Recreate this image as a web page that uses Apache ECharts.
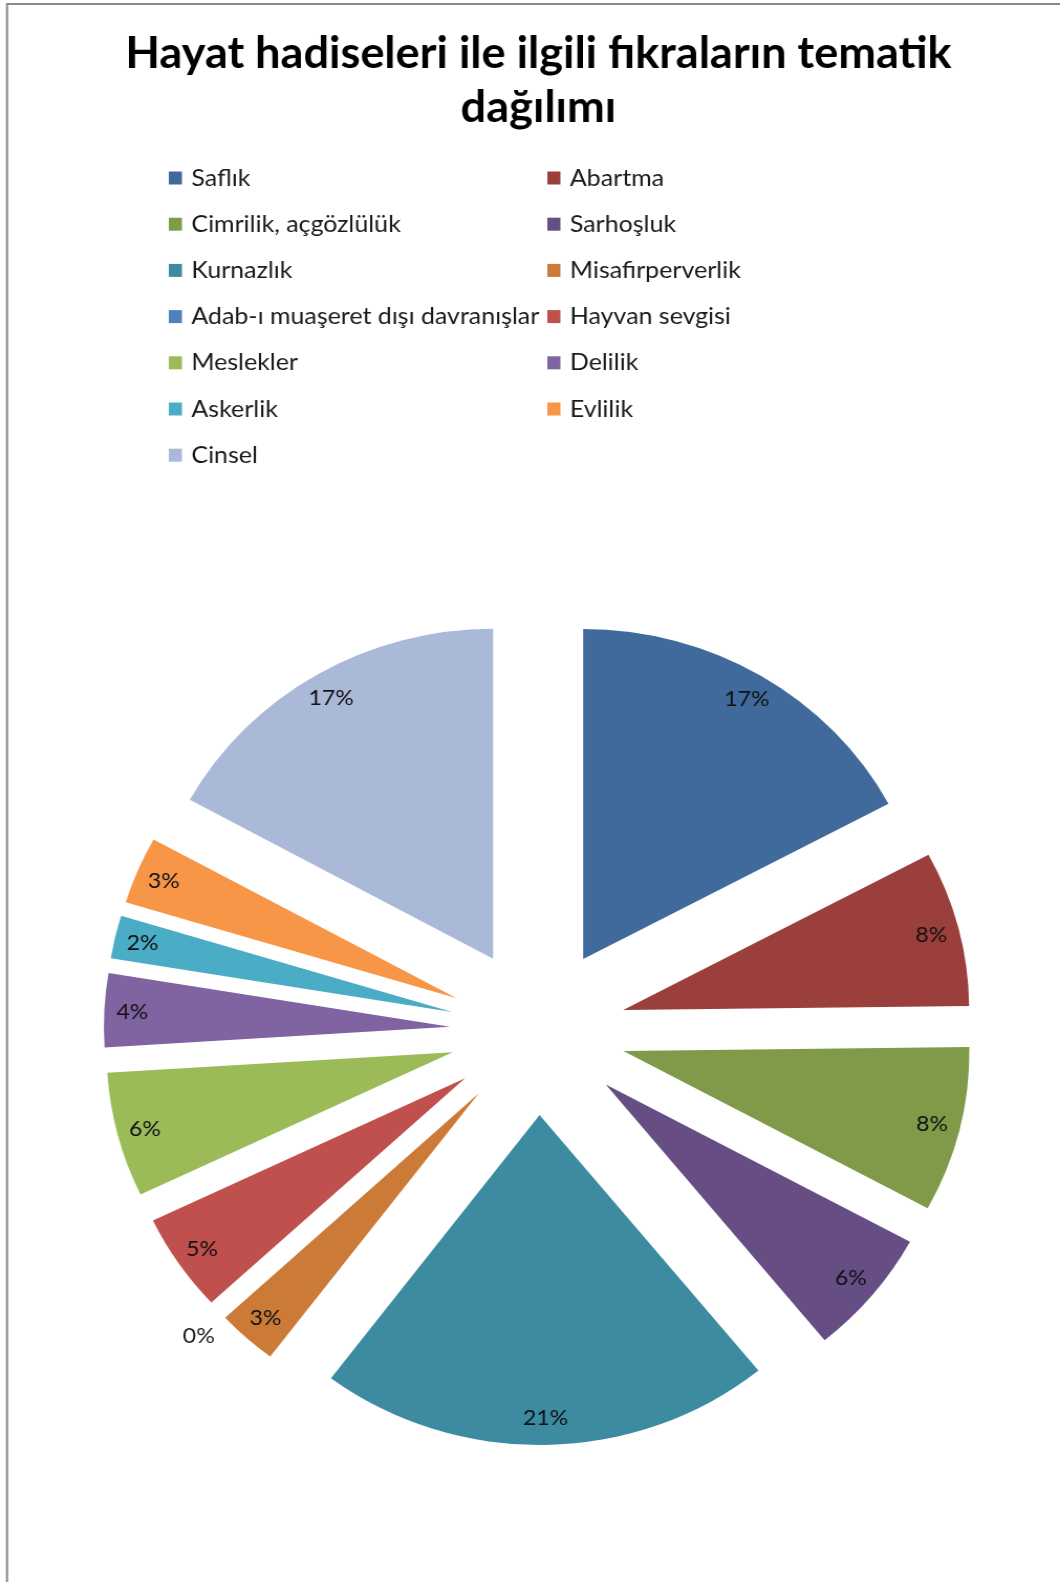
<!DOCTYPE html>
<html>
<head>
<meta charset="utf-8">
<script src="https://cdn.jsdelivr.net/npm/echarts@6/dist/echarts.min.js"></script>
<style>
html,body{margin:0;padding:0;background:#fff;overflow:hidden;}
#wrap{width:1060px;height:1582px;overflow:hidden;}
#chart{width:1011px;height:1582px;transform:scaleX(1.0485);transform-origin:0 0;}
</style>
</head>
<body>
<div id="wrap"><div id="chart"></div></div>
<script>
const titleText = 'Hayat hadiseleri ile ilgili fıkraların tematik\ndağılımı';
const categories = ['Saflık','Abartma','Cimrilik, açgözlülük','Sarhoşluk','Kurnazlık','Misafirperverlik','Adab-ı muaşeret dışı davranışlar','Hayvan sevgisi','Meslekler','Delilik','Askerlik','Evlilik','Cinsel'];
const values = [17.2, 7.6, 8.1, 6.2, 21.2, 2.8, 0, 4.8, 6.1, 3.6, 2.1, 3.3, 17.0];
const colors = ['#3F6A9B','#9B3F3D','#7F9A48','#664E85','#3D8BA1','#CB7B37','#4F81BD','#C0504D','#9BBB59','#8064A2','#4BACC6','#F79646','#A9B9D7'];

const FONT = 'Lato, "Liberation Sans", sans-serif';
const CENTER = [513, 1031];
const R = 330;
const OFFSET = 84;

const mainData = categories.map((n, i) => ({
  name: n, value: values[i], selected: true,
  itemStyle: { color: colors[i] }
}));
const labelData = categories.map((n, i) => {
  const d = { name: n, value: values[i], selected: true };
  if (values[i] === 0) {
    d.label = { position: 'outside', color: '#222' };
    d.labelLine = { show: false, length: 20, length2: 0 };
  }
  return d;
});

const col1 = categories.filter((_, i) => i % 2 === 0);
const col2 = categories.filter((_, i) => i % 2 === 1);
const legendCommon = {
  orient: 'vertical', top: 161, itemWidth: 12.5, itemHeight: 13, itemGap: 22.2,
  icon: 'rect', selectedMode: false,
  textStyle: { fontFamily: FONT, fontSize: 23.8, lineHeight: 24, color: '#1a1a1a', padding: [0,0,0,4] }
};

const chart = echarts.init(document.getElementById('chart'), null, { renderer: 'canvas' });
chart.setOption({
  animation: false,
  backgroundColor: '#fff',
  color: colors,
  title: {
    text: titleText, left: 508.5, top: 22, textAlign: 'center',
    textStyle: { fontFamily: FONT, fontSize: 43, fontWeight: 'bold', lineHeight: 54, color: '#000' }
  },
  legend: [
    Object.assign({ left: 156, data: col1 }, legendCommon),
    Object.assign({ left: 517, data: col2 }, legendCommon)
  ],
  graphic: [{
    type: 'rect', silent: true, z: -1,
    shape: { x: 6.7, y: 4, width: 1080, height: 1600 },
    style: { fill: 'none', stroke: '#8a8a8a', lineWidth: 2 }
  }],
  series: [
    {
      type: 'pie', center: CENTER, radius: [0, R], startAngle: 90, clockwise: true,
      selectedMode: 'multiple', selectedOffset: OFFSET, silent: true,
      avoidLabelOverlap: false,
      itemStyle: { borderWidth: 0 },
      emphasis: { disabled: true },
      label: { show: false }, labelLine: { show: false },
      data: mainData
    },
    {
      type: 'pie', center: CENTER, radius: [R * 0.82, R], startAngle: 90, clockwise: true,
      selectedMode: 'multiple', selectedOffset: OFFSET, silent: true,
      avoidLabelOverlap: false,
      itemStyle: { color: 'rgba(0,0,0,0)', borderWidth: 0 },
      emphasis: { disabled: true },
      label: {
        show: true, position: 'inside', fontFamily: FONT, fontSize: 22, color: '#111',
        formatter: p => Math.round(p.percent) + '%'
      },
      labelLine: { show: false },
      labelLayout: p => (values[p.dataIndex] === 0 ? { dx: 15, dy: 10 } : {}),
      data: labelData
    }
  ]
});
</script>
</body>
</html>
